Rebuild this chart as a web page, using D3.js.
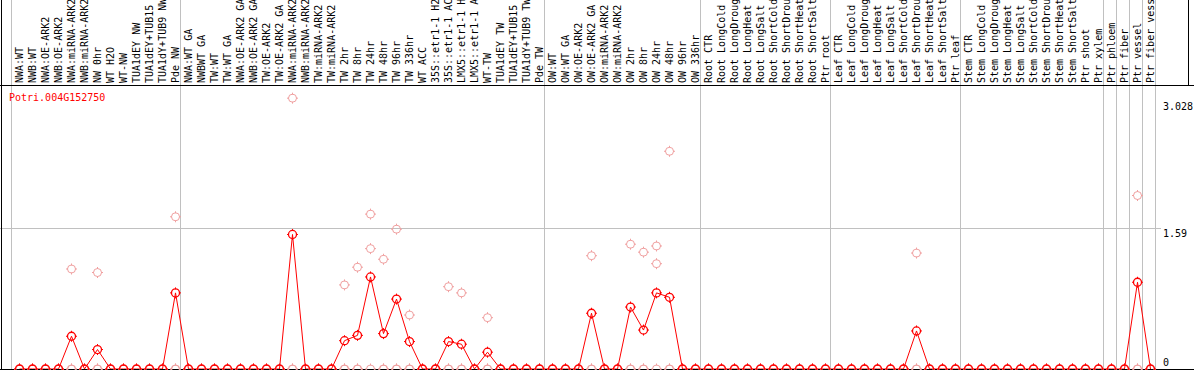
<!DOCTYPE html>
<meta charset="utf-8">
<style>
  body { margin: 0; background: #fff; }
  text { font-family: "DejaVu Sans Mono", monospace; font-size: 10px; }
</style>
<svg width="1194" height="370"></svg>
<script src="https://d3js.org/d3.v7.min.js"></script>
<script>
var geneName = "Potri.004G152750";

var labels = [
  "NWA:WT", "NWB:WT", "NWA:OE-ARK2", "NWB:OE-ARK2", "NWA:miRNA-ARK2", "NWB:miRNA-ARK2",
  "NW 0hr", "WT H2O", "WT-NW", "TUA1dEY NW", "TUA1dEY+TUB15 NW", "TUA1dY+TUB9 NW", "Pde NW",
  "NWA:WT GA", "NWBWT GA", "TW:WT", "TW:WT GA", "NWA:OE-ARK2 GA", "NWB:OE-ARK2 GA",
  "TW:OE-ARK2", "TW:OE-ARK2 GA", "NWA:miRNA-ARK2", "NWB:miRNA-ARK2", "TW:miRNA-ARK2",
  "TW:miRNA-ARK2", "TW 2hr", "TW 8hr", "TW 24hr", "TW 48hr", "TW 96hr", "TW 336hr",
  "WT ACC", "35S::etr1-1 H2O", "35S::etr1-1 ACC", "LMX5::etr1-1 H2O", "LMX5::etr1-1 ACC",
  "WT-TW", "TUA1dEY TW", "TUA1dEY+TUB15 TW", "TUA1dY+TUB9 TW", "Pde TW",
  "OW:WT", "OW:WT GA", "OW:OE-ARK2", "OW:OE-ARK2 GA", "OW:miRNA-ARK2", "OW:miRNA-ARK2",
  "OW 2hr", "OW 8hr", "OW 24hr", "OW 48hr", "OW 96hr", "OW 336hr",
  "Root CTR", "Root LongCold", "Root LongDrought", "Root LongHeat", "Root LongSalt",
  "Root ShortCold", "Root ShortDrought", "Root ShortHeat", "Root ShortSalt", "Ptr root",
  "Leaf CTR", "Leaf LongCold", "Leaf LongDrought", "Leaf LongHeat", "Leaf LongSalt",
  "Leaf ShortCold", "Leaf ShortDrought", "Leaf ShortHeat", "Leaf ShortSalt", "Ptr leaf",
  "Stem CTR", "Stem LongCold", "Stem LongDrought", "Stem LongHeat", "Stem LongSalt",
  "Stem ShortCold", "Stem ShortDrought", "Stem ShortHeat", "Stem ShortSalt", "Ptr shoot",
  "Ptr xylem", "Ptr phloem", "Ptr fiber", "Ptr vessel", "Ptr fiber vessel"
];

// number of samples in each group (grey separators between groups)
var groupSizes = [13, 28, 12, 10, 10, 11, 1, 1, 1, 1];

// mean expression (red line)
var meanValues = [
  0, 0, 0, 0, 0.37, 0, 0.22, 0, 0, 0, 0, 0, 0.86,
  0, 0, 0, 0, 0, 0, 0, 0, 1.52, 0, 0, 0, 0.32, 0.38, 1.04, 0.40, 0.79, 0.31,
  0, 0, 0.31, 0.28, 0, 0.19, 0, 0, 0, 0,
  0, 0, 0, 0.63, 0, 0, 0.70, 0.44, 0.86, 0.81, 0, 0,
  0, 0, 0, 0, 0, 0, 0, 0, 0, 0,
  0, 0, 0, 0, 0, 0, 0.43, 0, 0, 0,
  0, 0, 0, 0, 0, 0, 0, 0, 0, 0, 0,
  0, 0, 0.98, 0
];

// individual replicates (pink circles)
var rep1 = [
  0, 0, 0, 0, 1.13, 0, 1.09, 0, 0, 0, 0, 0, 1.72,
  0, 0, 0, 0, 0, 0, 0, 0, 3.06, 0, 0, 0, 0.95, 1.15, 1.75, 1.24, 1.58, 0.61,
  0, 0, 0.93, 0.86, 0, 0.58, 0, 0, 0, 0,
  0, 0, 0, 1.28, 0, 0, 1.41, 1.32, 1.39, 2.46, 0, 0,
  0, 0, 0, 0, 0, 0, 0, 0, 0, 0,
  0, 0, 0, 0, 0, 0, 1.31, 0, 0, 0,
  0, 0, 0, 0, 0, 0, 0, 0, 0, 0, 0,
  0, 0, 1.96, 0
];
var rep2 = [
  0, 0, 0, 0, 0, 0, 0, 0, 0, 0, 0, 0, 0,
  0, 0, 0, 0, 0, 0, 0, 0, 0, 0, 0, 0, 0, 0, 1.36, 0, 0, 0,
  0, 0, 0, 0, 0, 0, 0, 0, 0, 0,
  0, 0, 0, 0, 0, 0, 0, 0, 1.19, 0, 0, 0,
  0, 0, 0, 0, 0, 0, 0, 0, 0, 0,
  0, 0, 0, 0, 0, 0, 0, 0, 0, 0,
  0, 0, 0, 0, 0, 0, 0, 0, 0, 0, 0,
  0, 0, 0, 0
];
var rep3 = meanValues.map(function() { return 0; });

var tickValues = [0, 1.59, 3.028];

var svg = d3.select("svg"),
    W = +svg.attr("width"),
    H = +svg.attr("height"),
    labelBottom = 85,
    plotBottom = 369;

var x = d3.scalePoint()
    .domain(d3.range(labels.length))
    .range([19.5, 1150.5]);

var y = d3.scaleLinear()
    .domain([0, 3.028])
    .range([plotBottom, 101]);

var step = x.step();

// grey separators: one before the first column, then after each group
var sepIdx = [-1], acc = -1;
groupSizes.forEach(function(n) { acc += n; sepIdx.push(acc); });

svg.append("g").selectAll("line")
    .data(sepIdx)
  .enter().append("line")
    .attr("x1", function(i) { return (i < 0 ? x(0) - step : x(i)) + 5; })
    .attr("x2", function(i) { return (i < 0 ? x(0) - step : x(i)) + 5; })
    .attr("y1", 0)
    .attr("y2", H)
    .attr("stroke", "#c0c0c0")
    .attr("stroke-width", 1);

// horizontal grid at middle tick
svg.append("line")
    .attr("x1", 0).attr("x2", 1161)
    .attr("y1", Math.round(y(1.59)) + 0.5).attr("y2", Math.round(y(1.59)) + 0.5)
    .attr("stroke", "#c0c0c0");

// sample labels, rotated, clipped to the header band
svg.append("clipPath").attr("id", "hdr")
  .append("rect").attr("x", 0).attr("y", 0).attr("width", W).attr("height", labelBottom);

svg.append("g")
    .attr("clip-path", "url(#hdr)")
  .selectAll("text")
    .data(labels)
  .enter().append("text")
    .attr("transform", function(d, i) { return "translate(" + (x(i) + 3.5) + "," + (labelBottom - 2) + ") rotate(-90)"; })
    .attr("fill", "#000")
    .text(function(d) { return d; });

// frame lines
svg.append("line").attr("x1", 0).attr("x2", W).attr("y1", labelBottom + 0.5).attr("y2", labelBottom + 0.5)
    .attr("stroke", "#000");
svg.append("line").attr("x1", 1.5).attr("x2", 1.5).attr("y1", 0).attr("y2", H)
    .attr("stroke", "#000");
svg.append("line").attr("x1", 1188.5).attr("x2", 1188.5).attr("y1", 0).attr("y2", labelBottom)
    .attr("stroke", "#000");

// mean line
var line = d3.line()
    .x(function(d, i) { return x(i); })
    .y(function(d) { return y(d); });

svg.append("path")
    .attr("d", line(meanValues))
    .attr("fill", "none")
    .attr("stroke", "#ff0000")
    .attr("stroke-width", 1);

// baseline
svg.append("line").attr("x1", 0).attr("x2", W).attr("y1", plotBottom + 0.5).attr("y2", plotBottom + 0.5)
    .attr("stroke", "#000");

function markers(values, color, sw) {
  var g = svg.append("g").selectAll("g")
      .data(values)
    .enter().append("g")
      .attr("transform", function(d, i) { return "translate(" + x(i) + "," + y(d) + ")"; });
  g.append("circle")
      .attr("r", 4)
      .attr("fill", "none")
      .attr("stroke", color)
      .attr("stroke-width", sw);
  g.append("path")
      .attr("d", "M0,-5.5V-3.5M0,3.5V5.5M-5.5,0H-3.5M3.5,0H5.5")
      .attr("stroke", color)
      .attr("stroke-width", 1);
}

markers(rep3, "#f0a0a0", 1);
markers(rep2.map(function(v) { return v; }), "#f0a0a0", 1);
markers(rep1, "#f0a0a0", 1);
markers(meanValues, "#ff0000", 1.3);

// gene name
svg.append("text")
    .attr("x", 9)
    .attr("y", 101)
    .attr("fill", "#ff0000")
    .text(geneName);

// value labels on the right
svg.append("g").selectAll("text")
    .data(tickValues)
  .enter().append("text")
    .attr("x", 1163)
    .attr("y", function(d) { return d === 0 ? y(d) - 3 : y(d) + 9; })
    .attr("fill", "#000")
    .text(function(d) { return d; });
</script>
